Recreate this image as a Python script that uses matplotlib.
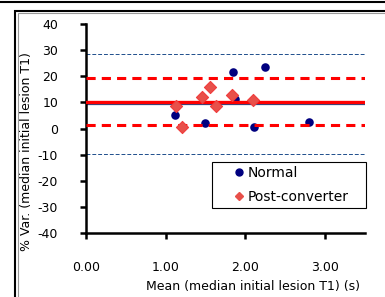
import matplotlib
matplotlib.use("Agg")
import matplotlib.pyplot as plt
from matplotlib.lines import Line2D
from matplotlib.patches import Rectangle

plt.rcParams['font.family'] = ['DejaVu Sans']
plt.rcParams['axes.unicode_minus'] = False

# Bland-Altman style data
normal_x = [1.12, 1.49, 1.84, 1.875, 2.11, 2.24, 2.80]
normal_y = [5.2, 2.0, 21.8, 11.3, 0.7, 23.4, 2.6]

post_x = [1.13, 1.20, 1.45, 1.56, 1.625, 1.83, 2.09]
post_y = [8.8, 0.7, 12.2, 16.0, 8.7, 12.8, 10.9]

# reference lines: normal mean / limits, post-converter mean / limits
normal_mean = 9.4
normal_limits = [28.5, -9.6]
post_mean = 10.1
post_limits = [19.2, 1.2]

xticks = [0, 1, 2, 3]
yticks = [40, 30, 20, 10, 0, -10, -20, -30, -40]

W, H = 385, 297
fig = plt.figure(figsize=(W / 100, H / 100), dpi=100)
ax = fig.add_axes([86 / W, 1 - 233 / H, 279 / W, 209 / H])

navy = '#00007f'
red = '#ff0000'
blue_line = '#1f4e8c'
diamond = '#e8504a'

# normal group lines
for lim in normal_limits:
    ax.axhline(lim, color=blue_line, lw=0.7, ls=(0, (4, 2)), zorder=1)
ax.axhline(normal_mean, color=blue_line, lw=1.6, zorder=1)

ax.scatter(normal_x, normal_y, s=38, color=navy, marker='o', zorder=2,
           linewidths=0)

# post-converter lines
for lim in post_limits:
    ax.axhline(lim, color=red, lw=2.2, ls=(0, (3, 2)), zorder=3)
ax.axhline(post_mean, color=red, lw=2.4, zorder=3)

ax.scatter(post_x, post_y, s=38, color=diamond, marker='D', zorder=4,
           edgecolors='#f03c3c', linewidths=0.8)

ax.set_xlim(0, 3.5)
ax.set_ylim(-40, 40)
ax.set_xticks(xticks)
ax.set_xticklabels([f'{v:.2f}' for v in xticks])
ax.set_yticks(yticks)
ax.set_yticklabels([str(v) for v in yticks])

for s in ['top', 'right']:
    ax.spines[s].set_visible(False)
for s in ['left', 'bottom']:
    ax.spines[s].set_linewidth(1.8)
ax.tick_params(axis='both', direction='out', length=4, width=1.8,
               labelsize=9, colors='black')
ax.tick_params(axis='x', pad=16)
ax.tick_params(axis='y', pad=16)

ax.set_xlabel('Mean (median initial lesion T1) (s)', fontsize=9)
ax.xaxis.set_label_coords(0.6, -0.258)
ax.xaxis.label.set_va('center')
ax.set_ylabel('% Var. (median initial lesion T1)', fontsize=9)
ax.yaxis.set_label_coords(-0.215, 0.392)
ax.yaxis.label.set_va('center')

# legend: box drawn separately so the entries can sit inside like Excel does
handles = [
    Line2D([], [], marker='o', ls='none', color=navy, markersize=5),
    Line2D([], [], marker='D', ls='none', color=diamond, markersize=4),
]
leg = ax.legend(handles, ['Normal', 'Post-converter'], loc='center left',
                bbox_to_anchor=((235 - 86) / 279, (233 - 185) / 209),
                borderaxespad=0, borderpad=0, fontsize=10, frameon=False,
                handlelength=0.6, handletextpad=0.3, labelspacing=0.75)
leg.set_zorder(6)
ax.add_patch(Rectangle((0.452, 0.12), 0.552, 0.22, transform=ax.transAxes,
                       facecolor='white', edgecolor='black', lw=0.8,
                       clip_on=False, zorder=5))

# outer chart frame
fig.add_artist(Line2D([0, 1], [1 - 2 / H, 1 - 2 / H], color='black', lw=1.5,
                      transform=fig.transFigure))
fig.add_artist(Rectangle((15 / W, -0.1), 1.2, 1 - 11 / H + 0.1,
                         transform=fig.transFigure, fill=False,
                         edgecolor='black', lw=1.5))
fig.add_artist(Rectangle((17.5 / W, -0.1), 1.2, 1 - 13.5 / H + 0.1,
                         transform=fig.transFigure, fill=False,
                         edgecolor='#999999', lw=0.8))

fig.savefig('out.png', dpi=100)
